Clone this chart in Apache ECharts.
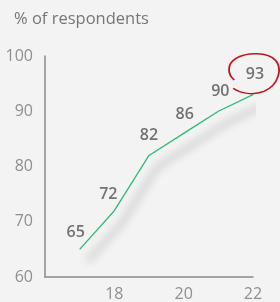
<!DOCTYPE html>
<html><head><meta charset="utf-8">
<script src="https://cdn.jsdelivr.net/npm/echarts@6/dist/echarts.min.js"></script>
<style>html,body{margin:0;padding:0;background:#f2f3f2;}#c{width:280px;height:302px;}</style>
</head><body><div id="c"></div>
<script>
var titleText = '% of respondents';
var years = [17, 18, 19, 20, 21, 22];
var values = [65, 72, 82, 86, 90, 93];
var yTicks = [60, 70, 80, 90, 100];
var xTicks = [18, 20, 22];
var highlightIndex = 5;

var labelOffsets = [[-4,-17],[-6,-16],[0,-20],[1,-19],[2,-20],[2,-20]];
var pts = years.map(function(y,i){return [y, values[i]];});
var labelled = pts.map(function(p,i){
  return {value:p, label:{offset:labelOffsets[i]}};
});
var chart = echarts.init(document.getElementById('c'), null, {renderer:'canvas'});
var FONT = 'Open Sans';
chart.setOption({
  backgroundColor:'#f2f3f2',
  animation:false,
  title:{text:titleText,left:9,top:6,textStyle:{fontFamily:FONT,fontSize:16.5,fontWeight:'normal',color:'#767676'}},
  grid:{left:45,right:27,top:56,bottom:24,containLabel:false},
  xAxis:{type:'value',min:16,max:22,interval:2,
    axisLine:{lineStyle:{color:'#8a8a8a',width:1.5}},axisTick:{show:false},splitLine:{show:false},
    axisLabel:{margin:9,color:'#8f8f8f',fontFamily:FONT,fontSize:16,
      formatter:function(v){return xTicks.indexOf(v)>=0?String(v):'';}}},
  yAxis:{type:'value',min:60,max:100,interval:10,
    axisLine:{show:true,lineStyle:{color:'#8a8a8a',width:1.5}},axisTick:{show:false},splitLine:{show:false},
    axisLabel:{margin:12,color:'#8f8f8f',fontFamily:FONT,fontSize:16,
      formatter:function(v){return yTicks.indexOf(v)>=0?String(v):'';}}},
  series:[
    {type:'line',data:pts,symbol:'none',silent:true,z:1,
     lineStyle:{width:5,color:'#f2f3f2',shadowColor:'rgba(0,0,0,0.16)',shadowBlur:9,shadowOffsetX:8,shadowOffsetY:12}},
    {type:'line',data:labelled,symbol:'circle',symbolSize:0.1,showSymbol:true,z:3,
     itemStyle:{color:'#2dbb76'},
     lineStyle:{width:1.3,color:'#2dbb76'},
     label:{show:true,position:'inside',fontFamily:FONT,fontSize:16,fontWeight:600,color:'#727272',
       formatter:function(p){return String(p.value[1]);}},
     markPoint:{silent:true,
       data:[{coord:pts[highlightIndex],
         symbol:'path://M8,27 C2,22 0,12 10,6 C20,0 40,0 47,8 C54,16 50,32 36,38 C26,42 14,40 7,35',
         symbolSize:[50,40],symbolOffset:[1,-21],symbolKeepAspect:false}],
       itemStyle:{color:'rgba(0,0,0,0)',borderColor:'#c0151b',borderWidth:1.6},
       label:{show:false}}}
  ]
});
</script></body></html>
